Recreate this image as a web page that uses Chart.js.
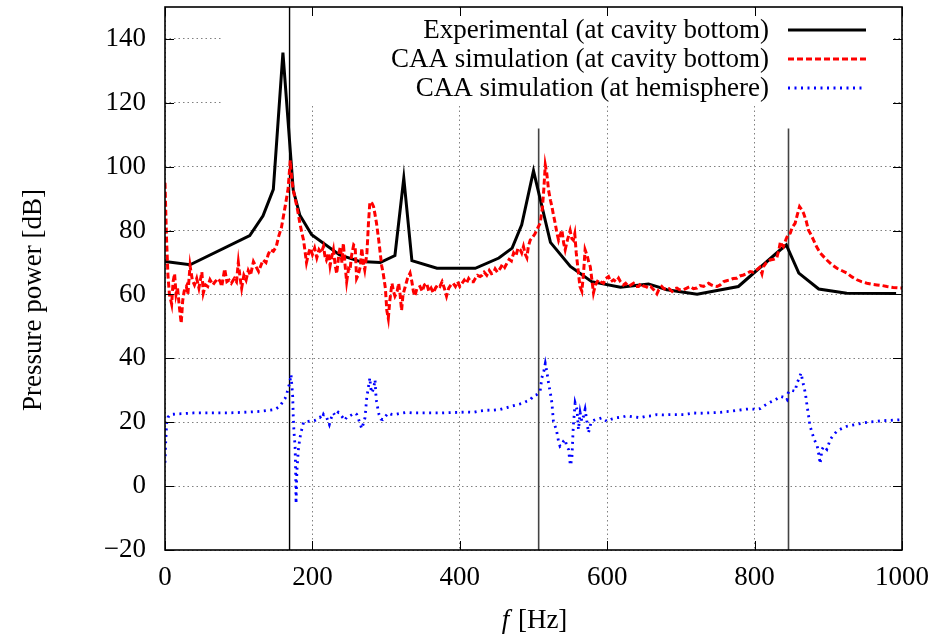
<!DOCTYPE html>
<html><head><meta charset="utf-8">
<script src="https://cdn.jsdelivr.net/npm/chart.js@4.4.1/dist/chart.umd.min.js"></script>
<style>html,body{margin:0;padding:0;background:#fff;}canvas{display:block;}</style>
</head><body>
<canvas id="c" width="936" height="639"></canvas>
<script>
// ---------- data ----------
const seriesLabels = ['Experimental (at cavity bottom)', 'CAA simulation (at cavity bottom)', 'CAA simulation (at hemisphere)'];

const expFreq  = [0, 34, 115, 133, 147, 160, 174, 183, 199, 237, 265, 292, 312, 324, 335, 369, 421, 453, 471, 484, 500, 523, 550, 579, 618, 656, 681, 722, 778, 835, 843, 860, 887, 925, 992];
const expLevel = [70.3, 69.3, 78.4, 84.6, 92.9, 135.7, 92.7, 84.8, 78.7, 72.4, 70.3, 70.0, 72.2, 96.4, 70.6, 68.2, 68.2, 71.4, 74.5, 81.8, 98.7, 76.3, 68.8, 64.0, 62.3, 63.3, 61.5, 60.1, 62.5, 74.0, 75.5, 66.7, 61.7, 60.4, 60.3];

const caaCavFreq = [0, 2, 4, 6, 9, 11, 13, 15, 17, 20, 22, 24, 26, 29, 31, 34, 37, 40, 43, 46, 50, 52, 55, 58, 61, 65, 68, 72, 75, 77, 81, 84, 87, 90, 94, 97, 99.5, 102, 104, 107, 110, 113, 116, 120, 124, 127, 130, 133, 137, 140, 143, 147, 151, 154, 158, 163, 167, 170, 172, 174, 177, 179, 181, 183, 186, 188, 190, 192, 195, 197, 200, 203, 206, 209, 212, 215, 217, 219, 222, 224, 226, 228.5, 231, 233, 236, 238, 240, 242, 244, 246.5, 249, 251, 253, 256, 258, 260, 262, 265, 267, 269, 271, 274, 276, 278, 281, 283, 285, 287, 290, 292, 294, 296, 299, 301, 303, 305, 308, 310, 312, 315, 317, 319, 321, 323, 326, 329, 332.5, 335, 337, 339, 342, 346, 349, 352, 355, 358, 361, 364, 367, 370, 373, 376, 379, 382, 385, 388, 391, 394, 397, 400, 403, 406, 409, 412, 415, 418.5, 421, 424, 427.5, 430, 433, 436.6, 440, 443, 445.6, 448, 451, 455, 458, 461, 464, 467, 470, 473, 476, 479, 482, 484, 486.4, 489, 491, 493, 495.5, 499, 502, 505, 509, 512, 514, 516, 518, 520.4, 523, 525, 527, 529.4, 532, 534, 536, 538.5, 541, 543, 546, 549.7, 552, 554, 556, 558, 561, 563, 565.6, 568, 570, 573, 575, 577, 579, 581.4, 584, 588, 591, 595, 598, 601.8, 605, 608.6, 612, 615.4, 618, 622, 625, 629, 632, 635.7, 639, 642.5, 646, 649, 652, 656, 659, 663, 665, 667.5, 670, 674, 677, 681, 684, 688, 691, 694.6, 698, 703.6, 708, 712.6, 717, 721.7, 726, 730.8, 734, 737.5, 741, 744.5, 749, 753.4, 758, 762, 767, 771, 776, 780, 785, 789, 794, 798, 803, 807, 810, 812, 816, 821, 826, 830, 833, 835, 837, 839, 843, 846, 848.4, 851, 855, 858, 861, 864, 866.5, 870, 873, 877, 880, 884, 889, 893, 898, 904, 911.7, 918, 925.3, 932, 938.9, 945, 952.5, 959, 966, 973, 979.6, 988, 997.7, 1000];
const caaCavLevel = [95, 78, 66, 60, 57, 64, 66.5, 60, 62, 55, 51, 58, 61, 62.5, 60, 69, 64.6, 63, 65, 62, 67, 60.5, 63, 62.5, 64.6, 63, 64, 65, 64, 62.5, 68, 64, 64.5, 63.5, 65, 64, 70, 65, 62, 66, 64.5, 67.5, 66, 70.3, 68.5, 67.2, 69, 70.8, 70, 72.5, 74, 73.5, 75, 78, 81, 87.5, 93, 102, 96, 92.7, 89.5, 87.5, 85, 82.3, 79, 77, 73.5, 70, 73, 74.5, 72.5, 74.5, 71.5, 74, 73, 75, 72, 70.8, 73, 69, 71.5, 74, 69, 66.5, 73, 75, 70, 76, 70, 64, 68, 67.5, 72, 75.5, 75, 65, 66, 68.75, 74.5, 70, 67.7, 73, 82, 89, 88.5, 87.5, 85, 82.3, 77, 73, 69, 66.7, 62, 55, 52.5, 58, 63.5, 61, 59.5, 61, 63.5, 60, 55, 60, 62.5, 65, 66.7, 64, 61, 59.5, 62, 62.5, 61, 63, 63.5, 61, 62, 60.5, 62, 63, 62.5, 64, 62, 59.5, 62, 63, 63.5, 62.5, 64, 62.5, 63.5, 64.5, 63.5, 65, 64, 64, 65, 66, 65.6, 66, 67, 66, 67.5, 66.5, 66.7, 68, 67, 68.2, 69.5, 68.5, 69.8, 71, 70.5, 73, 72, 74.5, 74, 73, 75, 72.5, 71.5, 75, 77, 78, 79, 80.5, 82.3, 87, 93, 100.5, 98, 92.7, 89.5, 87.5, 85, 82.3, 79, 77, 78.5, 80.2, 76, 74, 77, 80, 77.5, 77, 79, 73, 66.7, 62.5, 61, 67, 74, 72, 70, 68.75, 65, 60.5, 63, 64.6, 64, 63.5, 65, 65.6, 64, 64.6, 64, 65.1, 64, 63, 63.5, 62.5, 63, 63.5, 62.5, 62.5, 63.5, 62.7, 62.5, 62, 62.5, 61.5, 61, 60.2, 61.5, 62.5, 61.8, 61.5, 61.8, 61, 61.8, 62, 61.5, 61.5, 62, 62.5, 61.8, 62, 62.8, 62.5, 63, 63.5, 63, 62.7, 62.5, 63, 64, 64.3, 64.6, 65, 65.1, 65.8, 66.1, 66.5, 67.2, 67, 67.7, 68.5, 66.5, 68.75, 70, 70.8, 71, 71.4, 74, 76.5, 75.5, 75, 77.5, 79, 79.2, 81, 82.3, 85, 87.5, 86.5, 85.4, 83, 80.2, 78.5, 77, 75, 73, 72, 70.8, 69.5, 68.2, 67.5, 66.7, 65.5, 64.6, 64, 63.5, 63.2, 63, 62.8, 62.5, 62.2, 62, 62];

const caaHemFreq = [0, 1, 2.3, 4, 6.8, 15, 25, 38.5, 60, 84, 106, 129, 140, 149, 156, 160, 163, 165, 167, 169, 171, 172.3, 173.3, 174, 175, 176.5, 177.4, 177.8, 179, 181, 183, 185.5, 188, 191, 194.6, 199, 203.6, 207, 210.4, 213, 215, 217, 219.5, 221, 223, 225, 228.5, 231, 233, 235, 238, 241, 244, 247, 251, 254, 258, 260, 262, 264, 267, 269, 271.4, 273.7, 276, 278, 279, 280.5, 283, 285, 286, 287, 289, 290.4, 293, 295.4, 299, 303, 307, 312, 320, 328, 337, 346, 360, 373, 386, 400, 410, 418.5, 427, 436.6, 446, 454.7, 464, 473, 480, 486.4, 491, 495.5, 500, 504, 509, 511.3, 514, 516, 518, 520.4, 523, 525, 527, 531, 534, 536, 538.5, 541, 543, 545, 547.5, 550, 552, 554, 556.5, 559, 561, 563.3, 565.6, 568, 570, 572, 574.6, 577, 579, 584, 588, 593, 599.5, 606, 613, 620, 626.7, 635, 644.8, 654, 660, 667.5, 676, 685.5, 694, 703.6, 710, 717, 726, 735.3, 744.3, 753.4, 760, 767, 776, 785, 794, 803, 808, 812, 816, 821, 828, 835, 840, 844, 846, 850, 855, 857.5, 860, 863, 866, 868.8, 871, 873.3, 875, 878, 881, 884.6, 887, 889, 891.4, 894, 898, 902.7, 907, 911.7, 918, 925.3, 935, 948, 957, 966, 975, 984, 992, 1000];
const caaHemLevel = [7.3, 14, 19.8, 21.5, 22.4, 22.6, 22.7, 22.9, 22.9, 22.9, 23.1, 23.4, 23.7, 24, 25, 26.5, 27.5, 28.5, 30.7, 32, 34.9, 31, 28, 22, 17, 12.5, 3, -5.5, 5, 11.5, 15, 17.7, 20, 20.2, 20.3, 20.5, 20.6, 21, 21.6, 21, 22.4, 21.6, 21.4, 20.5, 19.3, 21, 22.9, 22, 22.5, 23.1, 22.4, 21.5, 20.6, 21.8, 22, 22.4, 22.9, 22.5, 21.4, 20, 18, 19.5, 21.4, 27.6, 31, 33.9, 31, 29.2, 30.5, 33.3, 29, 26.6, 24, 22.4, 21, 20.8, 21.8, 22.9, 22.5, 22.4, 22.8, 23.1, 22.9, 22.9, 22.9, 22.9, 23, 23.1, 23.2, 23.1, 23.5, 23.75, 23.8, 24, 24.6, 25.2, 25.6, 26, 26.6, 27, 28.3, 28.6, 29.7, 33.9, 36, 38.4, 36, 32.3, 29, 26, 20.3, 17.7, 14, 12.5, 13, 14.2, 14.6, 12.5, 11.5, 6.5, 8.3, 18.75, 26, 24, 17.7, 23, 20.3, 22, 24, 21, 16.7, 19, 20.3, 20.8, 21, 21.4, 20.3, 21, 21.4, 21.6, 22, 21.7, 21.4, 21.9, 22, 22.4, 22.3, 22.4, 22.4, 22.4, 22.6, 22.9, 22.8, 22.9, 23, 23.1, 23.3, 23.4, 23.7, 24, 24.2, 24, 24.3, 25, 25.6, 26.25, 27, 28.1, 27.8, 27, 29.7, 30, 29.7, 32.3, 33.5, 35.4, 32, 29.2, 25.5, 21.9, 19, 16.7, 14.5, 13, 10, 7, 11.5, 12.5, 11.5, 14.6, 16, 17.2, 18, 18.75, 19.2, 19.8, 20.1, 20.3, 20.5, 20.6, 20.7, 20.8];

// resonance marker lines
const markerFreq = [169, 507, 846];
const markerTop = [150, 112, 112];
const markerBottom = -20;

const xTicks = [0, 200, 400, 600, 800, 1000];
const xTickLabels = ['0', '200', '400', '600', '800', '1000'];
const yTicks = [-20, 0, 20, 40, 60, 80, 100, 120, 140];
const yTickLabels = ['\u221220', '0', '20', '40', '60', '80', '100', '120', '140'];
const xTitleItalic = 'f';
const xTitleRest = ' [Hz]';
const yTitle = 'Pressure power [dB]';

// ---------- build ----------
const zip = (xs, ys) => xs.map((x, i) => ({ x: x, y: ys[i] }));
const FONT = '"Liberation Serif", "Times New Roman", serif';
Chart.defaults.font.family = FONT;
Chart.defaults.font.size = 27;
Chart.defaults.color = '#000';

const datasets = [
  { label: seriesLabels[0], data: zip(expFreq, expLevel), borderColor: '#000', borderWidth: 3, order: 3, legendRow: 0 },
  { label: seriesLabels[1], data: zip(caaCavFreq, caaCavLevel), borderColor: '#ff0000', borderWidth: 3, borderDash: [6, 3], order: 2, legendRow: 1 },
  { label: seriesLabels[2], data: zip(caaHemFreq, caaHemLevel), borderColor: '#0000ff', borderWidth: 2.8, borderDash: [2, 4.5], order: 1, legendRow: 2 }
];
markerFreq.forEach((f, i) => {
  datasets.push({ label: 'marker' + i, data: [{ x: f, y: markerTop[i] }, { x: f, y: markerBottom }], borderColor: i === 0 ? '#000' : '#444', borderWidth: i === 0 ? 1.4 : 1.6, order: 4 });
});
datasets.forEach(d => { d.pointRadius = 0; d.pointHoverRadius = 0; d.tension = 0; d.fill = false; d.borderJoinStyle = 'miter'; });

const keyPlugin = {
  id: 'key',
  beforeDatasetsDraw(chart) {
    const ctx = chart.ctx, a = chart.chartArea;
    ctx.save();
    ctx.fillStyle = '#fff';
    ctx.fillRect(223, a.top + 1, 670, 97);
    ctx.font = '27px ' + FONT;
    ctx.textAlign = 'right';
    ctx.textBaseline = 'middle';
    const rows = [30, 59, 88];
    chart.data.datasets.forEach(d => {
      if (d.legendRow === undefined) return;
      const y = rows[d.legendRow];
      ctx.fillStyle = '#000';
      ctx.fillText(d.label, 769, y + 1);
      ctx.strokeStyle = d.borderColor;
      ctx.lineWidth = d.borderWidth;
      ctx.setLineDash(d.borderDash || []);
      ctx.beginPath();
      ctx.moveTo(788, y);
      ctx.lineTo(866, y);
      ctx.stroke();
    });
    ctx.restore();
  },
  afterDatasetsDraw(chart) {
    const ctx = chart.ctx, a = chart.chartArea;
    const xs = chart.scales.x, ys = chart.scales.y;
    ctx.save();
    ctx.setLineDash([]);
    ctx.strokeStyle = '#000';
    ctx.lineWidth = 1;
    ctx.beginPath();
    yTicks.forEach(v => {
      const py = Math.round(ys.getPixelForValue(v)) + 0.5;
      ctx.moveTo(a.left, py); ctx.lineTo(a.left + 9, py);
      ctx.moveTo(a.right, py); ctx.lineTo(a.right - 9, py);
    });
    xTicks.forEach(v => {
      const px = Math.round(xs.getPixelForValue(v)) + 0.5;
      ctx.moveTo(px, a.bottom); ctx.lineTo(px, a.bottom - 9);
      ctx.moveTo(px, a.top); ctx.lineTo(px, a.top + 9);
    });
    ctx.stroke();
    ctx.lineWidth = 1.6;
    ctx.strokeRect(a.left, a.top, a.right - a.left, a.bottom - a.top);
    ctx.fillStyle = '#000';
    ctx.textBaseline = 'middle';
    // y axis title
    ctx.save();
    ctx.font = '27px ' + FONT;
    ctx.textAlign = 'center';
    ctx.translate(34, 300);
    ctx.rotate(-Math.PI / 2);
    ctx.fillText(yTitle, 0, 0);
    ctx.restore();
    // x axis title: italic f + [Hz]
    ctx.textAlign = 'left';
    const fi = 'italic 27px ' + FONT, fn = '27px ' + FONT;
    ctx.font = fi; const w1 = ctx.measureText(xTitleItalic).width;
    ctx.font = fn; const w2 = ctx.measureText(xTitleRest).width;
    const cx = (a.left + a.right) / 2, x0 = cx - (w1 + w2) / 2, ty = 621;
    ctx.font = fi; ctx.fillText(xTitleItalic, x0, ty);
    ctx.font = fn; ctx.fillText(xTitleRest, x0 + w1 + 2, ty);
    ctx.restore();
  }
};

const noPad = s => { s.paddingTop = 0; s.paddingBottom = 0; s.paddingLeft = 0; s.paddingRight = 0; };

new Chart(document.getElementById('c'), {
  type: 'line',
  data: { datasets: datasets },
  options: {
    responsive: false,
    animation: false,
    events: [],
    layout: { padding: { left: 0, right: 34, top: 7, bottom: 0 } },
    plugins: { legend: { display: false }, tooltip: { enabled: false } },
    scales: {
      x: {
        type: 'linear', min: 0, max: 1000,
        afterBuildTicks: s => { s.ticks = xTicks.map(v => ({ value: v })); },
        afterFit: s => { s.height = 89; noPad(s); },
        ticks: { padding: 12, maxRotation: 0, autoSkip: false, callback: (v) => xTickLabels[xTicks.indexOf(v)] },
        grid: { color: '#808080', lineWidth: 1, drawTicks: false },
        border: { display: false, dash: [1.5, 3] }
      },
      y: {
        type: 'linear', min: -20, max: 150,
        afterBuildTicks: s => { s.ticks = yTicks.map(v => ({ value: v })); },
        afterFit: s => { s.width = 165; noPad(s); },
        ticks: { padding: 19, autoSkip: false, callback: (v) => yTickLabels[yTicks.indexOf(v)] },
        grid: { color: '#808080', lineWidth: 1, drawTicks: false },
        border: { display: false, dash: [1.5, 3] }
      }
    }
  },
  plugins: [keyPlugin]
});
</script>
</body></html>
